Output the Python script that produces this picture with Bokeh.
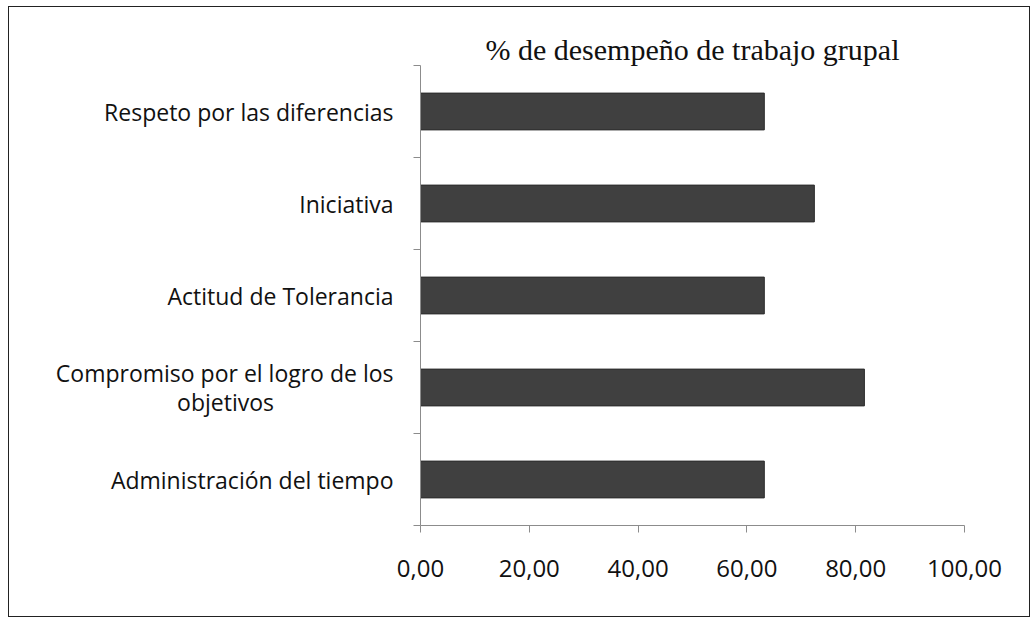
from bokeh.plotting import figure
from bokeh.models import FixedTicker, Range1d
from bokeh.embed import file_html
from bokeh.resources import INLINE

# Data (bottom to top)
categories = [
    "Administración del tiempo",
    "Compromiso por el logro de los\nobjetivos" + "\u00a0" * 20,
    "Actitud de Tolerancia",
    "Iniciativa",
    "Respeto por las diferencias",
]
values = [63.2, 81.6, 63.2, 72.4, 63.2]
x_ticks = [0, 20, 40, 60, 80, 100]
x_tick_labels = ["0,00", "20,00", "40,00", "60,00", "80,00", "100,00"]
title_text = "% de desempeño de trabajo grupal"

centers = [i + 0.5 for i in range(len(categories))]
bounds = list(range(len(categories) + 1))

p = figure(
    width=1022, height=611,
    output_backend="svg", toolbar_location=None,
    x_range=Range1d(0, 100), y_range=Range1d(0, len(categories)),
    min_border_left=411, min_border_right=67,
    min_border_top=58, min_border_bottom=93,
    title=title_text,
)
p.styles = {"border": "1px solid #222", "margin-left": "8px", "margin-top": "6px"}
p.outline_line_color = None
p.background_fill_color = "white"
p.border_fill_color = "white"
p.xgrid.visible = False
p.ygrid.visible = False

p.hbar(y=centers, right=values, left=0, height=0.4,
       fill_color="#404040", line_color="#2b2b2b", line_width=1)

# Title
p.title.text_font = "Liberation Serif"
p.title.text_font_size = "30px"
p.title.text_font_style = "normal"
p.title.text_color = "#111"
p.title.align = "center"
p.title.standoff = 0

axis_color = "#8c8c8c"

# X axis
xa = p.xaxis[0]
xa.ticker = FixedTicker(ticks=x_ticks, minor_ticks=[])
xa.major_label_overrides = {t: l for t, l in zip(x_ticks, x_tick_labels)}
xa.axis_line_color = axis_color
xa.major_tick_line_color = axis_color
xa.major_tick_out = 7
xa.major_tick_in = 0
xa.minor_tick_line_color = None
xa.major_label_standoff = 27
xa.major_label_text_font = "Open Sans"
xa.major_label_text_font_size = "24px"
xa.major_label_text_color = "#111"

# Y axis: labels at centres, ticks at boundaries
ya = p.yaxis[0]
ya.ticker = FixedTicker(ticks=centers, minor_ticks=bounds)
ya.major_label_overrides = {c: l for c, l in zip(centers, categories)}
ya.axis_line_color = axis_color
ya.major_tick_line_color = None
ya.major_tick_out = 0
ya.major_tick_in = 0
ya.minor_tick_line_color = axis_color
ya.minor_tick_out = 7
ya.minor_tick_in = 0
ya.major_label_standoff = 20
ya.major_label_text_font = "Open Sans"
ya.major_label_text_font_size = "23px"
ya.major_label_text_line_height = 0.9
ya.major_label_text_color = "#111"

open("out.html", "w").write(file_html(p, INLINE))
